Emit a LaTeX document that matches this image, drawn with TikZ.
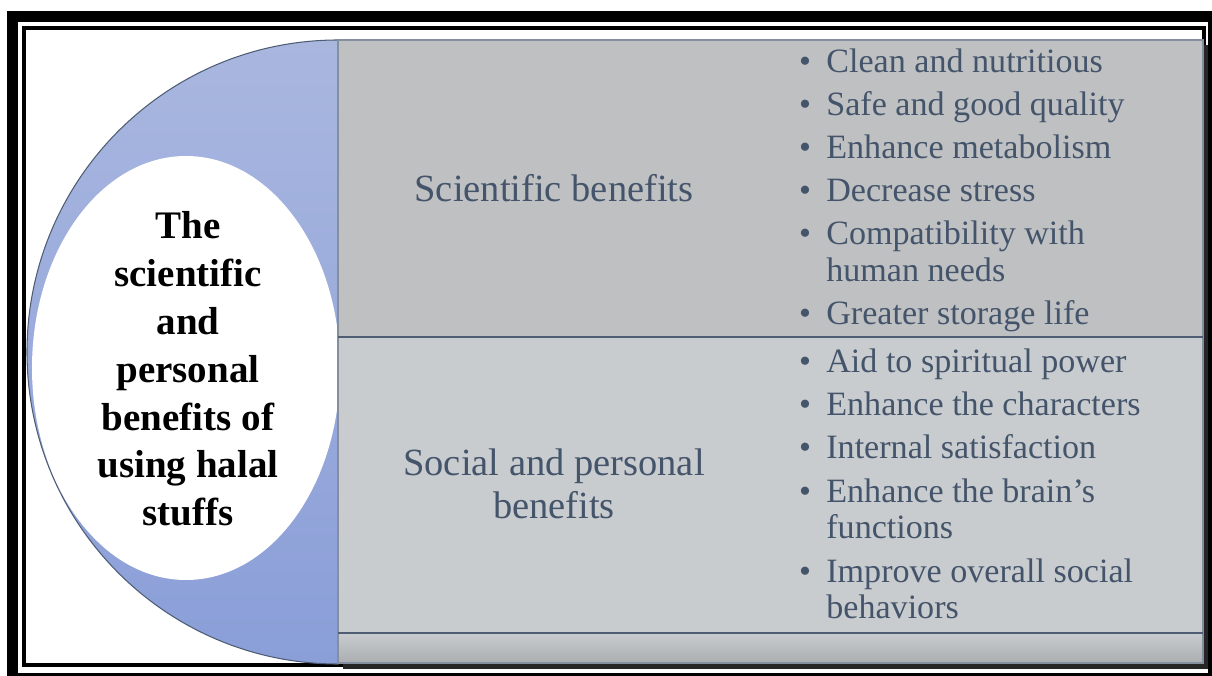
\documentclass[tikz,border=0pt]{standalone}
\usepackage{fontspec}
\setmainfont{Liberation Serif}
\usepackage{xcolor}
\usepackage{tikz}

\definecolor{slate}{HTML}{44546A}
\definecolor{topgray}{HTML}{BFC0C2}
\definecolor{lowgray}{HTML}{C9CCCF}
\definecolor{rimline}{HTML}{4E5D74}
\definecolor{bluetop}{HTML}{A9B7DF}
\definecolor{bluebot}{HTML}{8A9ED8}

\begin{document}
\begin{tikzpicture}[
    titleline/.style={anchor=base, inner sep=0pt, font=\fontsize{22.2}{26}\selectfont\bfseries},
    grouptext/.style={anchor=base, inner sep=0pt, text=slate, font=\fontsize{21.9}{25}\selectfont},
    itemtext/.style={anchor=base west, inner sep=0pt, text=slate, font=\fontsize{19.4}{23}\selectfont},
    itemdot/.style={anchor=base, inner sep=0pt, text=slate, font=\fontsize{19.4}{23}\selectfont}
]
    \useasboundingbox (0,0) rectangle (24.24,13.5);
    % double frame round the figure
    \draw[line width=0.22cm] (0.25,13.17) rectangle (24.27,-0.06);
    \draw[line width=0.08cm] (0.48,12.94) rectangle (24.08,0.2);
    % blue half disc and the white ellipse in it
    \shade[top color=bluetop, bottom color=bluebot, draw=rimline, line width=0.6pt]
        (6.76,12.7) arc[start angle=90, end angle=270, x radius=6.22, y radius=6.24] -- cycle;
    \fill[white] (3.72,6.14) ellipse[x radius=3.08, y radius=4.24];
    % grey panel with its shadow
    \fill[black!85] (6.86,0.12) rectangle (24.16,12.6);
    \fill[topgray] (6.76,6.76) rectangle (24.06,12.7);
    \fill[lowgray] (6.76,0.84) rectangle (24.06,6.76);
    \shade[top color=lowgray, bottom color=lowgray!85!black] (6.76,0.24) rectangle (24.06,0.84);
    \draw[rimline!70, line width=0.6pt] (6.76,0.24) rectangle (24.06,12.7);
    \draw[rimline, line width=0.9pt] (6.76,6.76) -- (24.06,6.76);
    \draw[rimline, line width=0.9pt] (6.76,0.84) -- (24.06,0.84);

    % title in the ellipse
    \foreach \y/\t [count=\i] in {8.72/The, 7.76/scientific, 6.82/and, 5.86/personal,
                                  4.9/benefits of, 3.96/using halal, 3.0/stuffs} {
        \node[titleline] (title\i) at (3.76,\y) {\t};
    }

    % the two groups
    \node[grouptext] (sci) at (11.08,9.46) {Scientific benefits};
    \node[grouptext] (soca) at (11.08,4.0) {Social and personal};
    \node[grouptext] (socb) at (11.08,3.14) {benefits};

    % list lines
    \foreach \y/\t [count=\i] in {12.04/Clean and nutritious, 11.18/Safe and good quality,
                                  10.32/Enhance metabolism, 9.46/Decrease stress,
                                  8.60/Compatibility with, 7.86/human needs,
                                  7.00/Greater storage life, 6.04/Aid to spiritual power,
                                  5.20/Enhance the characters, 4.34/Internal satisfaction,
                                  3.46/Enhance the brain's, 2.74/functions,
                                  1.86/Improve overall social, 1.14/behaviors} {
        \node[itemtext] (line\i) at (16.52,\y) {\t};
    }
    % bullets in front of the first line of each item
    \foreach \y [count=\i] in {12.04, 11.18, 10.32, 9.46, 8.60, 7.00,
                               6.04, 5.20, 4.34, 3.46, 1.86} {
        \node[itemdot] (dot\i) at (16.1,\y) {\textbullet};
    }
\end{tikzpicture}
\end{document}
